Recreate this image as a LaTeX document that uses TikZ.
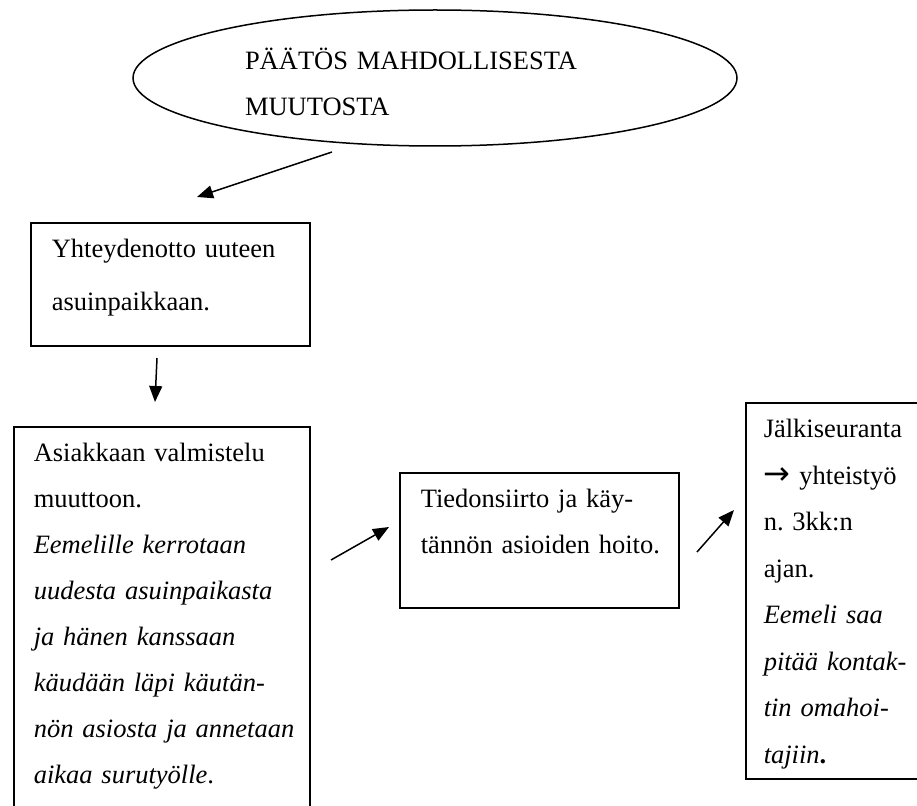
\documentclass[tikz,border=0pt]{standalone}
\usepackage{fontspec}
\setmainfont{Liberation Serif}
\newfontfamily\symfont{DejaVu Sans}
\usetikzlibrary{arrows.meta,shapes.geometric}

\begin{document}
\begin{tikzpicture}[x=1pt, y=-1pt, line width=1.5pt,
    txt/.style={font=\fontsize{26.5}{46}\selectfont\frenchspacing},
    box/.style={txt, draw, rectangle, anchor=north west, inner ysep=0pt, align=left, text height=35pt},
    arr/.style={-{Triangle[length=16pt, width=13pt]}}]

    \useasboundingbox (0,0) rectangle (917,805);

    \node[txt, draw, ellipse, minimum width=604pt, minimum height=136pt, inner sep=0pt,
          text width=380pt, align=left, text height=30pt, text depth=46pt] (paatos) at (435,78)
          {PÄÄTÖS MAHDOLLISESTA\\ MUUTOSTA};

    \node[box, inner xsep=21pt, text width=237pt, text depth=88pt,
          font=\fontsize{26.5}{53}\selectfont] (yhteys) at (30,222)
          {Yhteydenotto uuteen\\ asuinpaikkaan.};

    \node[box, inner xsep=20pt, text width=256pt, text depth=369pt] (valmistelu) at (13,426)
          {Asiakkaan valmistelu\\ muuttoon.\\ \textit{Eemelille kerrotaan}\\
           \textit{uudesta asuinpaikasta}\\ \textit{ja hänen kanssaan}\\
           \textit{käudään läpi käutän-}\\ \mbox{\textit{nön asiosta ja annetaan}}\\
           \textit{aikaa surutyölle}.};

    \node[box, inner xsep=21pt, text width=237pt, text depth=100pt] (tiedonsiirto) at (399,472)
          {Tiedonsiirto ja käy-\\ \mbox{tännön asioiden hoito.}};

    \node[box, inner xsep=18pt, text width=160pt, text depth=341pt,
          font=\fontsize{26.5}{46.5}\selectfont\frenchspacing] (jalkiseuranta) at (745,402)
          {Jälkiseuranta\\ {\symfont\fontsize{32}{32}\selectfont →} yhteistyö\\ n. 3kk:n\\ ajan.\\
           \textit{Eemeli saa}\\ \textit{pitää kontak-}\\ \textit{tin omahoi-}\\ \textit{tajiin}\textbf{.}};

    \coordinate (n1) at (332,152);
    \coordinate (n2) at (197,197);
    \coordinate (n3) at (157,358);
    \coordinate (n4) at (155,402);
    \coordinate (n5) at (331,560);
    \coordinate (n6) at (389,527);
    \coordinate (n7) at (697,552);
    \coordinate (n8) at (734,510);

    \draw[arr] (n1) -- (n2);
    \draw[arr] (n3) -- (n4);
    \draw[arr] (n5) -- (n6);
    \draw[arr] (n7) -- (n8);

\end{tikzpicture}
\end{document}
